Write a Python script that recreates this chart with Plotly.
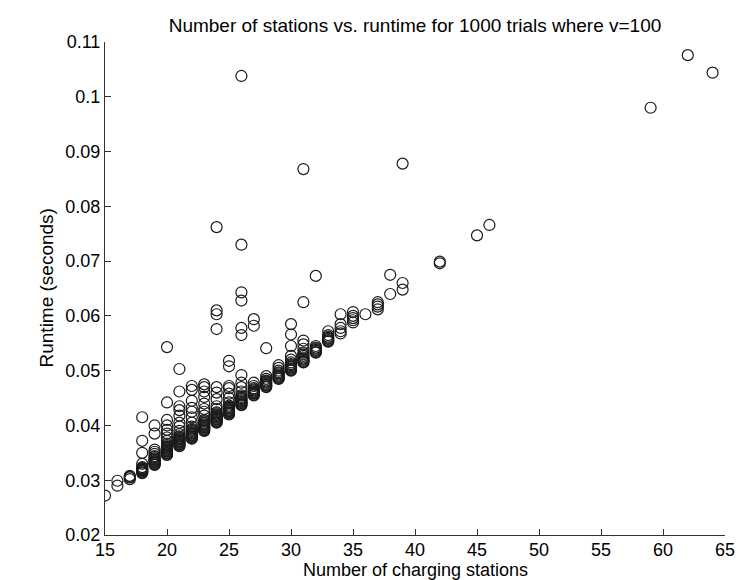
import plotly.graph_objects as go

rt_15 = [0.0272]
rt_16 = [0.0290, 0.0299]
rt_17 = [0.0302, 0.0305, 0.0306, 0.0308]
rt_18 = [0.0313, 0.0314, 0.0316, 0.0317, 0.0318, 0.0319, 0.0320, 0.0321, 0.0322, 0.0324,
         0.0330, 0.0350, 0.0372, 0.0415]
rt_19 = [0.0328, 0.0329, 0.0331, 0.0332, 0.0334, 0.0335, 0.0337, 0.0338, 0.0340, 0.0342,
         0.0344, 0.0348, 0.0352, 0.0356, 0.0385, 0.0400]
rt_20 = [0.0346, 0.0347, 0.0349, 0.0350, 0.0352, 0.0353, 0.0355, 0.0356, 0.0358, 0.0359,
         0.0361, 0.0362, 0.0364, 0.0367, 0.0372, 0.0378, 0.0385, 0.0392, 0.0400, 0.0410,
         0.0442, 0.0543]
rt_21 = [0.0362, 0.0363, 0.0365, 0.0366, 0.0368, 0.0369, 0.0371, 0.0372, 0.0374, 0.0375,
         0.0377, 0.0378, 0.0380, 0.0384, 0.0390, 0.0398, 0.0405, 0.0418, 0.0428, 0.0435,
         0.0462, 0.0503]
rt_22 = [0.0376, 0.0377, 0.0379, 0.0380, 0.0382, 0.0383, 0.0385, 0.0386, 0.0388, 0.0390,
         0.0392, 0.0394, 0.0398, 0.0405, 0.0415, 0.0425, 0.0432, 0.0445, 0.0465, 0.0472]
rt_23 = [0.0390, 0.0391, 0.0393, 0.0394, 0.0396, 0.0397, 0.0399, 0.0400, 0.0402, 0.0404,
         0.0405, 0.0408, 0.0410, 0.0418, 0.0425, 0.0430, 0.0440, 0.0452, 0.0462, 0.0470,
         0.0475]
rt_24 = [0.0405, 0.0406, 0.0408, 0.0409, 0.0411, 0.0412, 0.0414, 0.0415, 0.0417, 0.0419,
         0.0420, 0.0422, 0.0424, 0.0430, 0.0435, 0.0448, 0.0460, 0.0470, 0.0576, 0.0603,
         0.0610, 0.0762]
rt_25 = [0.0420, 0.0421, 0.0423, 0.0424, 0.0426, 0.0427, 0.0429, 0.0431, 0.0432, 0.0434,
         0.0436, 0.0442, 0.0450, 0.0458, 0.0468, 0.0472, 0.0508, 0.0518]
rt_26 = [0.0437, 0.0438, 0.0440, 0.0441, 0.0443, 0.0444, 0.0446, 0.0448, 0.0450, 0.0452,
         0.0455, 0.0462, 0.0470, 0.0478, 0.0492, 0.0565, 0.0578, 0.0628, 0.0643, 0.0730,
         0.1038]
rt_27 = [0.0455, 0.0456, 0.0458, 0.0459, 0.0461, 0.0462, 0.0464, 0.0466, 0.0468, 0.0472,
         0.0478, 0.0582, 0.0594]
rt_28 = [0.0470, 0.0471, 0.0473, 0.0474, 0.0476, 0.0478, 0.0480, 0.0482, 0.0485, 0.0490,
         0.0541]
rt_29 = [0.0485, 0.0486, 0.0488, 0.0489, 0.0491, 0.0493, 0.0495, 0.0497, 0.0500, 0.0505,
         0.0510]
rt_30 = [0.0500, 0.0501, 0.0503, 0.0504, 0.0506, 0.0508, 0.0510, 0.0512, 0.0515, 0.0520,
         0.0527, 0.0545, 0.0566, 0.0585]
rt_31 = [0.0515, 0.0516, 0.0518, 0.0520, 0.0522, 0.0524, 0.0527, 0.0530, 0.0533, 0.0540,
         0.0548, 0.0555, 0.0625, 0.0868]
rt_32 = [0.0533, 0.0534, 0.0536, 0.0538, 0.0540, 0.0542, 0.0545, 0.0673]
rt_33 = [0.0553, 0.0554, 0.0556, 0.0558, 0.0560, 0.0562, 0.0565, 0.0572]
rt_34 = [0.0568, 0.0572, 0.0578, 0.0585, 0.0603]
rt_35 = [0.0588, 0.0592, 0.0596, 0.0600, 0.0607]
rt_36 = [0.0603]
rt_37 = [0.0612, 0.0617, 0.0621, 0.0625]
rt_38 = [0.0640, 0.0675]
rt_39 = [0.0648, 0.0660, 0.0878]
rt_42 = [0.0696, 0.0699]
rt_45 = [0.0747]
rt_46 = [0.0766]
rt_59 = [0.0980]
rt_62 = [0.1076]
rt_64 = [0.1044]

stations = [15, 16, 17, 18, 19, 20, 21, 22, 23, 24, 25, 26, 27, 28, 29, 30,
            31, 32, 33, 34, 35, 36, 37, 38, 39, 42, 45, 46, 59, 62, 64]
runtimes = [rt_15, rt_16, rt_17, rt_18, rt_19, rt_20, rt_21, rt_22, rt_23, rt_24,
            rt_25, rt_26, rt_27, rt_28, rt_29, rt_30, rt_31, rt_32, rt_33, rt_34,
            rt_35, rt_36, rt_37, rt_38, rt_39, rt_42, rt_45, rt_46, rt_59, rt_62,
            rt_64]

x_ticks = [15, 20, 25, 30, 35, 40, 45, 50, 55, 60, 65]
y_ticks = [0.02, 0.03, 0.04, 0.05, 0.06, 0.07, 0.08, 0.09, 0.1, 0.11]
y_tick_text = ["0.02", "0.03", "0.04", "0.05", "0.06", "0.07", "0.08", "0.09", "0.1", "0.11"]

xs, ys = [], []
for s, vals in zip(stations, runtimes):
    xs += [s] * len(vals)
    ys += vals

fig = go.Figure(go.Scatter(
    x=xs, y=ys, mode="markers",
    marker=dict(symbol="circle-open", size=11, color="#1a1a1a", line=dict(width=1.2)),
))

font = "Liberation Sans, Arial, sans-serif"
L, R, T, B = 97, 34, 34, 53
W, H = 751, 580
pw, ph = W - L - R, H - T - B

fig.update_layout(
    width=W, height=H,
    paper_bgcolor="white", plot_bgcolor="white",
    margin=dict(l=L, r=R, t=T, b=B),
    showlegend=False,
    font=dict(family=font, size=18, color="black"),
    title=dict(text="Number of stations vs. runtime for 1000 trials where v=100",
               x=0.5, xanchor="center", xref="paper", y=1 - 17 / H, yanchor="middle",
               yref="container", font=dict(size=19, family=font, color="black")),
    xaxis=dict(range=[15, 65], tickvals=x_ticks, ticks="inside", ticklen=6,
               tickcolor="#333", showline=True, linecolor="#333", linewidth=1,
               showgrid=False, zeroline=False, mirror=False,
               ticklabelstandoff=-2,
               tickfont=dict(size=18)),
    yaxis=dict(range=[0.02, 0.11], tickvals=y_ticks, ticktext=y_tick_text,
               ticks="inside", ticklen=6, tickcolor="#333",
               showline=True, linecolor="#333", linewidth=1,
               showgrid=False, zeroline=False, mirror=False,
               tickfont=dict(size=18)),
    annotations=[
        dict(text="Number of charging stations", xref="paper", yref="paper",
             x=0.5, y=-(562 - (T + ph)) / ph, xanchor="center", yanchor="middle",
             showarrow=False, font=dict(size=18, family=font, color="black")),
        dict(text="Runtime (seconds)", xref="paper", yref="paper",
             x=(38 - L) / pw, y=0.5, xanchor="center", yanchor="middle",
             textangle=-90, showarrow=False,
             font=dict(size=19, family=font, color="black")),
    ],
)

fig.write_html("out.html")
